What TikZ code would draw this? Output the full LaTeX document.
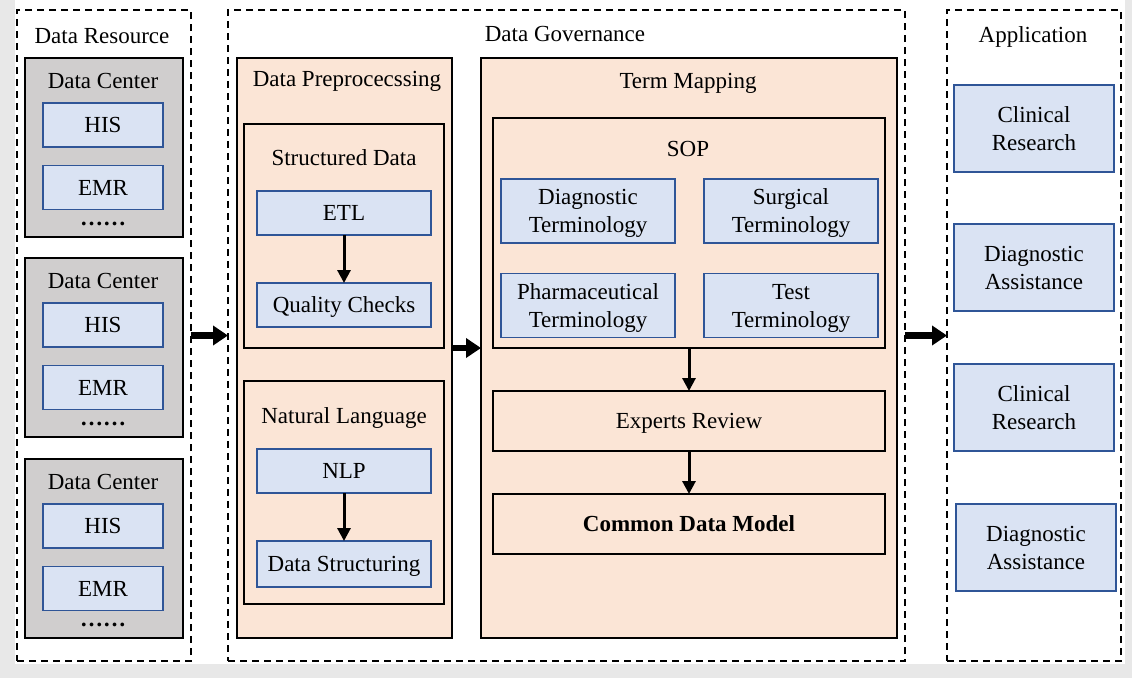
\documentclass[tikz,border=0pt]{standalone}
\usepackage{fontspec}
\setmainfont{Liberation Serif}
\usetikzlibrary{arrows.meta}
\definecolor{bluefill}{HTML}{DAE3F3}
\definecolor{blueline}{HTML}{2F5597}
\definecolor{peach}{HTML}{FBE5D6}
\definecolor{grayfill}{HTML}{D0CECE}
\definecolor{bggray}{HTML}{E8E8E8}
\tikzset{
  every node/.style={font=\fontsize{23}{28}\selectfont, inner sep=0pt, outer sep=0pt},
  dashbox/.style={draw=black, line width=1.8pt, dash pattern=on 7pt off 5pt, rectangle},
  bluebox/.style={draw=blueline, fill=bluefill, line width=1.6pt, rectangle, align=center, text depth=0pt},
  graybox/.style={draw=black, fill=grayfill, line width=1.8pt, rectangle},
  peachbox/.style={draw=black, fill=peach, line width=1.8pt, rectangle, align=center, text depth=0pt},
  title/.style={anchor=base},
  smallarrow/.style={draw=black, line width=3pt, -{Triangle[length=13pt, width=13pt]}},
  bigarrow/.style={draw=black, line width=6.5pt, -{Triangle[length=15pt, width=19pt]}},
}
\begin{document}
\begin{tikzpicture}[x=1pt, y=-1pt]
\useasboundingbox (0,0) rectangle (1132,678);
\fill[bggray] (0,0) rectangle (1132,678);
\fill[white] (15,0) rectangle (1125,664);

% outer dashed frames
\node[dashbox, minimum width=174pt, minimum height=651pt] (dr) at (104,335.5) {};
\node[dashbox, minimum width=677pt, minimum height=651pt] (dg) at (566.5,335.5) {};
\node[dashbox, minimum width=174pt, minimum height=651pt] (app) at (1034,335.5) {};
\node[title] (drt) at (102,43) {Data Resource};
\node[title] (dgt) at (565,41) {Data Governance};
\node[title] (appt) at (1033,42) {Application};

% data centers
\foreach \i/\dy in {1/0, 2/200, 3/401} {
  \node[graybox, minimum width=158pt, minimum height=179pt] (dc\i) at (104,147.5+\dy) {};
  \node[title] (dct\i) at (103,88+\dy) {Data Center};
  \node[bluebox, minimum width=120pt, minimum height=44pt] (his\i) at (103,125+\dy) {HIS};
  \node[bluebox, minimum width=120pt, minimum height=44pt] (emr\i) at (103,187.5+\dy) {EMR};
  \node[title] (dots\i) at (103,225.5+\dy) {\textbf{……}};
}

% data preprocessing
\node[peachbox, minimum width=215pt, minimum height=580pt] (dp) at (344.5,348) {};
\node[title] (dpt) at (347,86) {Data Preprocecssing};
\node[peachbox, minimum width=200pt, minimum height=224pt] (sd) at (344,236) {};
\node[title] (sdt) at (344,165) {Structured Data};
\node[bluebox, minimum width=174pt, minimum height=44pt] (etl) at (344,213) {ETL};
\node[bluebox, minimum width=174pt, minimum height=44pt] (qc) at (344,305) {Quality Checks};
\node[peachbox, minimum width=200pt, minimum height=223pt] (nl) at (344,492.5) {};
\node[title] (nlt) at (344,423) {Natural Language};
\node[bluebox, minimum width=174pt, minimum height=44pt] (nlp) at (344,471) {NLP};
\node[bluebox, minimum width=174pt, minimum height=46pt] (ds) at (344,564) {Data Structuring};

% term mapping
\node[peachbox, minimum width=416pt, minimum height=580pt] (tm) at (689,348) {};
\node[title] (tmt) at (688,88) {Term Mapping};
\node[peachbox, minimum width=392pt, minimum height=230pt] (sop) at (689,233) {};
\node[title] (sopt) at (688,156) {SOP};
\node[bluebox, minimum width=174pt, minimum height=64pt] (diag) at (588,211) {Diagnostic\\Terminology};
\node[bluebox, minimum width=174pt, minimum height=64pt] (surg) at (791,211) {Surgical\\Terminology};
\node[bluebox, minimum width=174pt, minimum height=64pt] (pharm) at (588,305.5) {Pharmaceutical\\Terminology};
\node[bluebox, minimum width=174pt, minimum height=64pt] (test) at (791,305.5) {Test\\Terminology};
\node[peachbox, minimum width=392pt, minimum height=60pt] (exp) at (689,421) {Experts Review};
\node[peachbox, minimum width=392pt, minimum height=60pt] (cdm) at (689,524) {\textbf{Common Data Model}};

% applications
\node[bluebox, minimum width=160pt, minimum height=87pt] (cr1) at (1034,128.5) {Clinical\\Research};
\node[bluebox, minimum width=160pt, minimum height=87pt] (da1) at (1034,267.5) {Diagnostic\\Assistance};
\node[bluebox, minimum width=160pt, minimum height=87pt] (cr2) at (1034,407.5) {Clinical\\Research};
\node[bluebox, minimum width=160pt, minimum height=87pt] (da2) at (1036,547.5) {Diagnostic\\Assistance};

% arrows
\draw[smallarrow] (etl.south) -- (qc.north);
\draw[smallarrow] (nlp.south) -- (ds.north);
\draw[smallarrow] (sop.south) -- (exp.north);
\draw[smallarrow] (exp.south) -- (cdm.north);
\draw[bigarrow] (dr.east) -- (dg.west);
\draw[bigarrow] (dp.east) -- (tm.west);
\draw[bigarrow] (dg.east) -- (app.west);
\end{tikzpicture}
\end{document}
